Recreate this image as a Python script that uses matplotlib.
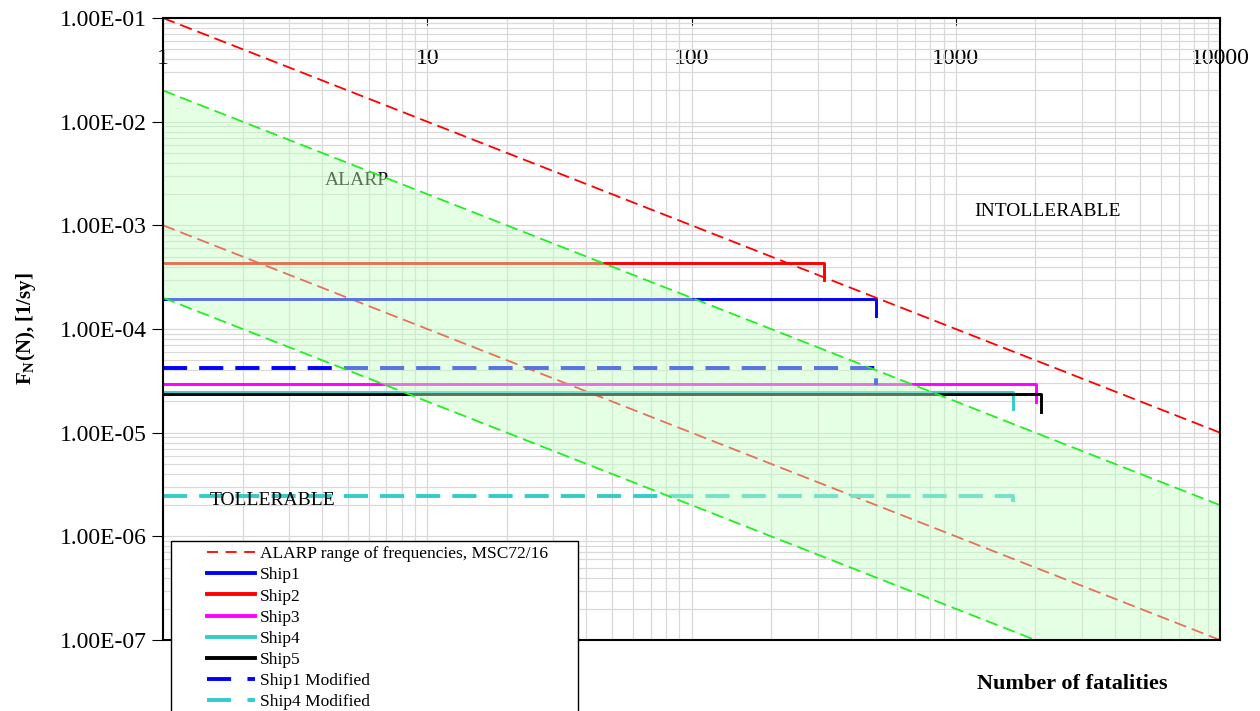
import matplotlib
matplotlib.use("Agg")
import matplotlib.pyplot as plt
from matplotlib.lines import Line2D
from matplotlib.patches import Rectangle
from matplotlib.ticker import FuncFormatter, LogLocator, NullFormatter, FixedLocator

plt.rcParams["font.family"] = ["Liberation Serif", "DejaVu Serif"]
plt.rcParams["mathtext.fontset"] = "custom"
plt.rcParams["mathtext.rm"] = "Liberation Serif"
plt.rcParams["mathtext.bf"] = "Liberation Serif:bold"

# MSC72/16 criterion lines, given by their end points (N, F)
alarp_n = [1, 10000]
intolerable_f = [1e-1, 1e-5]
negligible_f = [1e-3, 1e-7]
alarp_upper_f = [2e-2, 2e-6]
alarp_lower_f = [2e-4, 2e-8]

# F-N curves: constant frequency up to the max fatalities, then the drop
ships = ["Ship1", "Ship2", "Ship3", "Ship4", "Ship5", "Ship1 Modified", "Ship4 Modified"]
ship_freq = [1.96e-4, 4.35e-4, 2.92e-5, 2.49e-5, 2.34e-5, 4.2e-5, 2.47e-6]
ship_nmax = [500, 316, 2010, 1650, 2100, 500, 1650]
ship_drop = [1.33e-4, 3.0e-4, 1.96e-5, 1.69e-5, 1.57e-5, 2.9e-5, 1.87e-6]
ship_color = ["#0000ff", "#ff0000", "#ff00ff", "#33cccc", "#000000", "#0000ff", "#33cccc"]
ship_dashed = [False, False, False, False, False, True, True]

crit_dash = (0, (6.9, 3.3))
ship_dash = (0, (6.2, 3.1))

fig = plt.figure(figsize=(12.6, 7.11), dpi=100)
ax = fig.add_axes([163 / 1260, 1 - 640 / 711, 1057 / 1260, 622 / 711])
ax.set_xscale("log")
ax.set_yscale("log")
ax.set_xlim(1, 10000)
ax.set_ylim(1e-7, 1e-1)

ax.grid(True, which="both", color="#d9d9d9", linewidth=0.9, zorder=0)
ax.set_axisbelow(True)

ax.plot(alarp_n, intolerable_f, color="#ff0000", lw=1.3, linestyle=crit_dash, zorder=4)
ax.plot(alarp_n, negligible_f, color="#ff0000", lw=1.3, linestyle=crit_dash, zorder=2)
ax.plot(alarp_n, alarp_upper_f, color="#22ee22", lw=1.3, linestyle=crit_dash, zorder=4)
ax.plot(alarp_n, alarp_lower_f, color="#22ee22", lw=1.3, linestyle=crit_dash, zorder=4)
ax.fill_between(alarp_n, alarp_lower_f, alarp_upper_f, color="#c5ffc5",
                alpha=0.45, linewidth=0, zorder=3)

handles = [Line2D([], [], color="#ff0000", lw=1.3, linestyle=(0, (6.1, 4.2)))]
for f, n, fd, c, dashed in zip(ship_freq, ship_nmax, ship_drop, ship_color, ship_dashed):
    ls = ship_dash if dashed else "-"
    lw = 2.8 if dashed else 2.1
    ax.plot([1, n, n], [f, f, fd], color=c, lw=lw, linestyle=ls, zorder=2)
    if dashed:
        handles.append(Line2D([], [], color=c, lw=2.8, linestyle=(0, (6.2, 4.2))))
    else:
        handles.append(Line2D([], [], color=c, lw=2.8))

ax.text(5.4, 2.73e-3, "ALARP", fontsize=14, ha="center", va="center", zorder=2)
ax.text(2234, 1.37e-3, "INTOLLERABLE", fontsize=14, ha="center", va="center", zorder=5)
ax.text(2.6, 2.24e-6, "TOLLERABLE", fontsize=14, ha="center", va="center", zorder=5)

# x ticks along the top edge, labels inside the frame
ax.xaxis.tick_top()
ax.xaxis.set_major_locator(FixedLocator([1, 10, 100, 1000, 10000]))
ax.xaxis.set_major_formatter(FuncFormatter(lambda v, p: f"{v:.0f}"))
ax.xaxis.set_minor_formatter(NullFormatter())
ax.tick_params(axis="x", which="major", direction="in", length=5, pad=-37,
               labelsize=17)
ax.tick_params(axis="x", which="minor", length=0)

ax.yaxis.set_major_locator(LogLocator(base=10, numticks=10))
ax.yaxis.set_minor_locator(LogLocator(base=10, subs=range(2, 10), numticks=20))
ax.yaxis.set_major_formatter(FuncFormatter(lambda v, p: f"{v:.2E}"))
ax.yaxis.set_minor_formatter(NullFormatter())
ax.tick_params(axis="y", which="major", direction="out", length=8, labelsize=17)
ax.tick_params(axis="y", which="minor", length=0)

for s in ax.spines.values():
    s.set_linewidth(1.5)
    s.set_zorder(6)

ax.set_ylabel(r"F$_\mathbf{N}$(N), [1/sy]", fontsize=15, fontweight="bold", labelpad=16)
ax.xaxis.set_label_position("bottom")
ax.set_xlabel("Number of fatalities", fontsize=16, fontweight="bold")
ax.xaxis.set_label_coords((1072 - 163) / 1057, -(674 - 640) / 622)

labels = ["ALARP range of frequencies, MSC72/16"] + ships
fig.patches.append(Rectangle((171 / 1260, 1 - 713 / 711), 407 / 1260, 172 / 711,
                             transform=fig.transFigure, facecolor="white",
                             edgecolor="black", linewidth=1.0, zorder=10))
leg = fig.legend(handles, labels, loc="upper left",
                 bbox_to_anchor=(207 / 1260, 1 - 546 / 711), frameon=False,
                 fontsize=12.5, handlelength=2.76, handletextpad=0.28,
                 labelspacing=0.29, borderpad=0, borderaxespad=0)
leg.set_zorder(11)

fig.savefig("out.png", dpi=100)
